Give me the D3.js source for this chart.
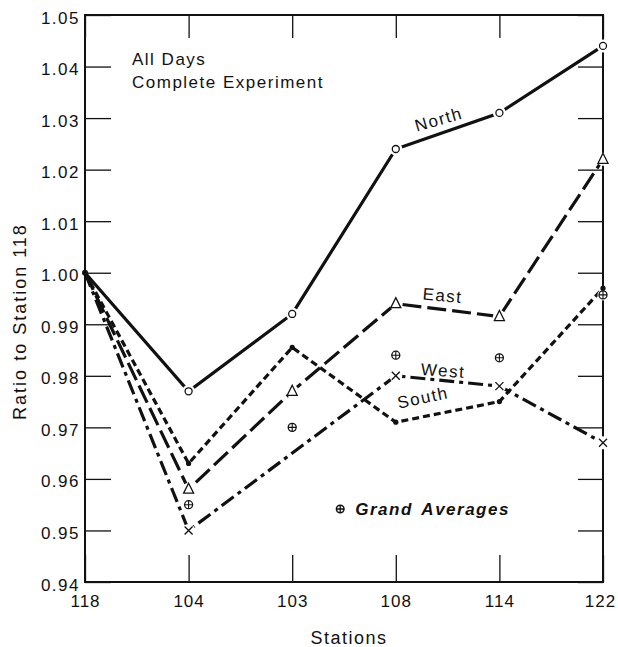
<!DOCTYPE html>
<html>
<head>
<meta charset="utf-8">
<script src="https://cdn.jsdelivr.net/npm/d3@7"></script>
<style>
  body { margin: 0; background: #fff; }
  svg text { font-family: "Liberation Sans", Arial, sans-serif; fill: #111; }
</style>
</head>
<body>
<div id="chart"></div>
<script>
// Chart data
var stations = ["118", "104", "103", "108", "114", "122"];
var north = [1.000, 0.977, 0.992, 1.024, 1.031, 1.044];
var east = [1.000, 0.958, 0.977, 0.994, 0.9915, 1.022];
var south = [1.000, 0.963, 0.9855, 0.971, 0.975, 0.997];
var west = [1.000, 0.950, null, 0.980, 0.978, 0.967];
var grandAvg = [null, 0.955, 0.970, 0.984, 0.9835, 0.9957];
var yTicks = [0.94, 0.95, 0.96, 0.97, 0.98, 0.99, 1.00, 1.01, 1.02, 1.03, 1.04, 1.05];

var svgWidth = 618;
var svgHeight = 647;
var margin = { top: 15, right: 15, bottom: 65, left: 85 };
var width = svgWidth - margin.left - margin.right;
var height = svgHeight - margin.top - margin.bottom;

var svg = d3.select("#chart")
  .append("svg")
  .attr("width", svgWidth)
  .attr("height", svgHeight);

var chartGroup = svg.append("g")
  .attr("transform", `translate(${margin.left}, ${margin.top})`);

var x = d3.scalePoint().domain(stations).range([0, width]);
var y = d3.scaleLinear().domain([0.94, 1.05]).range([height, 0]);

// Axes (ticks point inward on all four sides)
var leftAxis = chartGroup.append("g")
  .call(d3.axisLeft(y).tickValues(yTicks).tickSize(-26).tickPadding(5)
    .tickFormat(d3.format(".2f")));
var rightAxis = chartGroup.append("g")
  .attr("transform", `translate(${width}, 0)`)
  .call(d3.axisRight(y).tickValues(yTicks).tickSize(-25).tickFormat(""));
var bottomAxis = chartGroup.append("g")
  .attr("transform", `translate(0, ${height})`)
  .call(d3.axisBottom(x).tickSize(-27).tickPadding(13));
var topAxis = chartGroup.append("g")
  .call(d3.axisTop(x).tickSize(-23).tickFormat(""));

[leftAxis, rightAxis, bottomAxis, topAxis].forEach(function(a) {
  a.select(".domain").remove();
  a.selectAll(".tick line").attr("stroke", "#111").attr("stroke-width", 1.3);
  a.selectAll(".tick text")
    .style("font-size", "17px")
    .style("letter-spacing", "1.5px")
    .attr("fill", "#111");
});
leftAxis.selectAll(".tick text").attr("dy", "0.47em");
bottomAxis.selectAll(".tick text")
  .style("letter-spacing", "1px")
  .attr("dx", function(d) { return d === "122" ? -3 : 0; });

// Frame
chartGroup.append("rect")
  .attr("x", 0).attr("y", 0)
  .attr("width", width).attr("height", height)
  .attr("fill", "none")
  .attr("stroke", "#111")
  .attr("stroke-width", 2);

// Series
var series = [
  { name: "North", values: north, dash: null, marker: "circle", lbl: { t: 0.45, angle: -16, dy: -8 } },
  { name: "East", values: east, dash: "19,6", marker: "triangle", lbl: { t: 0.44, angle: 5, dy: -8 } },
  { name: "South", values: south, dash: "7,4", marker: "dot", lbl: { t: 0.30, angle: -12, dy: -13 } },
  { name: "West", values: west, dash: "15,5,4,5", marker: "cross", lbl: { t: 0.45, angle: 4, dy: -4 } }
];

function pts(values) {
  return values.map(function(v, i) { return { s: stations[i], v: v }; })
    .filter(function(d) { return d.v !== null; });
}

var line = d3.line()
  .x(function(d) { return x(d.s); })
  .y(function(d) { return y(d.v); });

var linesGroup = chartGroup.append("g");
series.forEach(function(s) {
  linesGroup.append("path")
    .datum(pts(s.values))
    .attr("d", line)
    .attr("fill", "none")
    .attr("stroke", "#111")
    .attr("stroke-width", 3.2)
    .attr("stroke-dasharray", s.dash);
});

// white halos under open markers so lines stop short of them
var haloGroup = chartGroup.append("g");
var markerGroup = chartGroup.append("g")
  .attr("stroke", "#111")
  .attr("stroke-width", 1.3);

function drawMarker(type, cx, cy) {
  var g = markerGroup.append("g").attr("transform", `translate(${cx}, ${cy})`);
  if (type === "circle") {
    g.append("circle").attr("r", 3.5).attr("fill", "#fff");
  } else if (type === "triangle") {
    g.append("path").attr("d", "M0,-6L5,4L-5,4Z").attr("fill", "#fff");
  } else if (type === "cross") {
    g.append("path").attr("d", "M-4,-4L4,4M-4,4L4,-4").attr("fill", "none");
  } else if (type === "dot") {
    g.append("circle").attr("r", 2.6).attr("fill", "#111").attr("stroke", "none");
  } else if (type === "oplus") {
    g.append("circle").attr("r", 4).attr("fill", "#fff");
    g.append("path").attr("d", "M-4,0L4,0M0,-4L0,4").attr("fill", "none").attr("stroke-width", 1.1);
  } else if (type === "start") {
    g.append("circle").attr("r", 3).attr("fill", "#111").attr("stroke", "none");
  }
}

function halo(cx, cy, r) {
  haloGroup.append("circle").attr("cx", cx).attr("cy", cy).attr("r", r).attr("fill", "#fff");
}

// grand averages
pts(grandAvg).forEach(function(d) {
  halo(x(d.s), y(d.v), 5.5);
  drawMarker("oplus", x(d.s), y(d.v));
});

series.forEach(function(s) {
  pts(s.values).forEach(function(d, i) {
    if (d.s === stations[0]) return;
    if (s.marker !== "dot") halo(x(d.s), y(d.v), 6.5);
    drawMarker(s.marker, x(d.s), y(d.v));
  });
});
drawMarker("start", x(stations[0]), y(north[0]));

// series labels along the 108 -> 114 segment
series.forEach(function(s) {
  var a = pts(s.values).filter(function(d) { return d.s === "108"; })[0];
  var b = pts(s.values).filter(function(d) { return d.s === "114"; })[0];
  var px = x(a.s) + (x(b.s) - x(a.s)) * s.lbl.t;
  var py = y(a.v) + (y(b.v) - y(a.v)) * s.lbl.t;
  chartGroup.append("text")
    .attr("transform", `translate(${px}, ${py}) rotate(${s.lbl.angle})`)
    .attr("dy", s.lbl.dy)
    .attr("text-anchor", "middle")
    .style("font-size", "17px")
    .style("letter-spacing", "1.5px")
    .text(s.name);
});

// notes
chartGroup.append("text")
  .attr("x", 47).attr("y", 50)
  .style("font-size", "17px")
  .style("letter-spacing", "1.5px")
  .text("All Days");
chartGroup.append("text")
  .attr("x", 47).attr("y", 73)
  .style("font-size", "17px")
  .style("letter-spacing", "1.5px")
  .text("Complete Experiment");

// legend for grand averages
var legend = chartGroup.append("g")
  .attr("transform", `translate(${x("103") + 48}, ${y(0.953)})`);
legend.append("g").attr("transform", "translate(0, -6)")
  .call(function(g) {
    g.append("circle").attr("r", 3.8).attr("fill", "#fff").attr("stroke", "#111").attr("stroke-width", 1.5);
    g.append("path").attr("d", "M-3.8,0L3.8,0M0,-3.8L0,3.8").attr("stroke", "#111").attr("stroke-width", 1.3);
  });
legend.append("text")
  .attr("x", 15).attr("y", 0)
  .style("font-size", "17px")
  .style("font-weight", "bold")
  .style("font-style", "italic")
  .style("letter-spacing", "1.5px")
  .style("word-spacing", "3px")
  .text("Grand Averages");

// axis titles
svg.append("text")
  .attr("transform", `translate(26, ${margin.top + height / 2 + 23}) rotate(-90)`)
  .attr("text-anchor", "middle")
  .style("font-size", "18px")
  .style("letter-spacing", "2px")
  .text("Ratio to Station 118");

svg.append("text")
  .attr("x", margin.left + width / 2 + 5)
  .attr("y", 644)
  .attr("text-anchor", "middle")
  .style("font-size", "18px")
  .style("letter-spacing", "1.5px")
  .text("Stations");
</script>
</body>
</html>
